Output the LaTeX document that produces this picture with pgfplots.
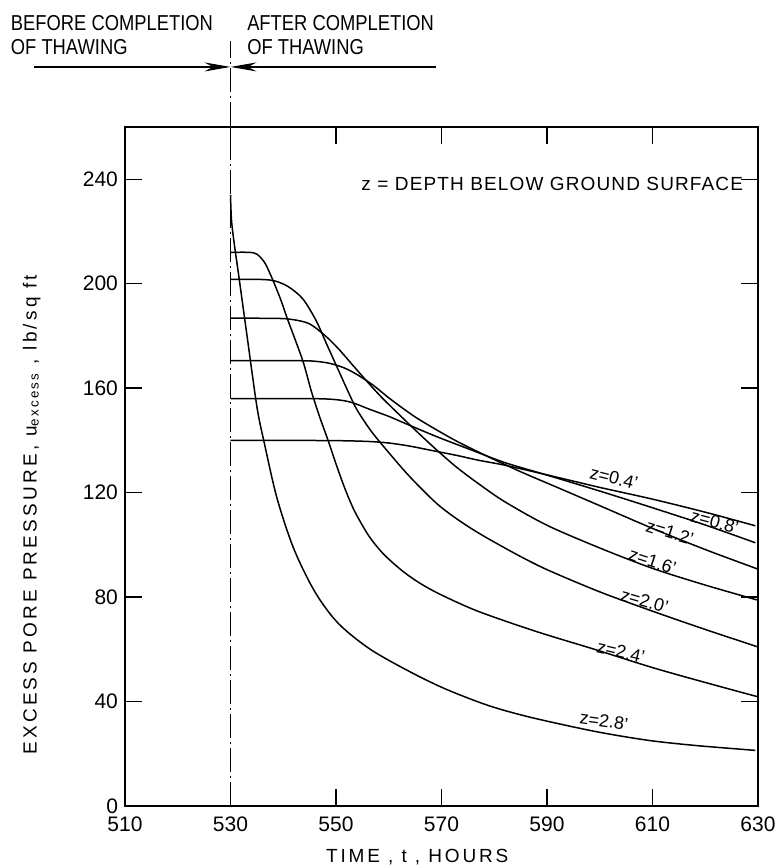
\documentclass[border=0pt]{standalone}
\usepackage{fontspec}
\setmainfont{Liberation Sans}
\usepackage{pgfplots}
\pgfplotsset{compat=1.18}
\usetikzlibrary{arrows.meta}

\newcommand\lab[2][6]{{\addfontfeatures{LetterSpace=#1}#2}}
\newcommand\tall[1]{{\fontsize{10.8}{11.5}\selectfont\addfontfeatures{FakeStretch=0.85}#1}}

\begin{document}
\begin{tikzpicture}
\begin{axis}[
    name=ax, at={(0,0)}, anchor=south west,
    scale only axis, width=316.5pt, height=339.5pt,
    xmin=510, xmax=630, ymin=0, ymax=260,
    xtick={510,530,...,630}, ytick={0,40,...,240},
    tick align=inside, tick pos=both,
    xticklabel pos=bottom, yticklabel pos=left,
    major tick length=8.5pt,
    axis line style={line width=0.7pt},
    every tick/.style={black, line width=0.7pt},
    tick label style={font=\fontsize{10.5}{12}\selectfont},
    xticklabel style={yshift=-2pt},
    /pgf/number format/assume math mode=true,
    /pgf/number format/set thousands separator={},
    clip=false,
    cycle list={{black,solid}},
    every axis plot/.append style={line width=0.75pt, mark=none, smooth, tension=0.5},
]
% z = 0.4'
\addplot coordinates {(530,140) (540,140) (550,139.9) (556,139.6) (560,139) (564,137.8)
  (568,136.2) (573,134.2) (577,132.4) (582,130.5) (590,126.8) (600,122) (610,117.5)
  (620,112.5) (629.5,107.3)};
% z = 0.8'
\addplot coordinates {(530,156) (545,156) (550,155.6) (553,154.5) (556.5,151.8) (560,149.2)
  (563,146.6) (569,141.5) (575.7,136.3) (582,131.5) (590,126.7) (600,120.6) (610,114.2)
  (620,107.6) (629.5,100.8)};
% z = 1.2'
\addplot coordinates {(530,170.5) (543,170.5) (546,170.3) (548.8,169.5) (551.5,167.8)
  (554,165.2) (557,161.2) (560,156.3) (563,151.8) (566,147.7) (572.5,140.1) (578.9,133.7)
  (585,128) (591.7,122.2) (600,115) (610,106.3) (620,98.2) (630,90.7)};
% z = 1.6'
\addplot coordinates {(530,186.8) (539,186.7) (542,186.2) (545,184.6) (548,180) (550.5,175)
  (553.3,168.5) (556,162.3) (558.4,157) (561,151.8) (565,144) (569,136.5) (573,129.5)
  (577.3,123) (582,116.5) (590,107.5) (600,98.8) (610,91) (620,84.6) (630,78.8)};
% z = 2.0'
\addplot coordinates {(530,201.7) (536,201.6) (538.5,201) (541,198.8) (543.7,194.2)
  (546.2,186) (548.2,177) (550.1,168.5) (552,160) (553.9,152) (556.5,144) (559.3,137)
  (563.8,126.5) (569,116) (573,109.8) (577.3,104.2) (584,96.6) (590,90.5) (600,82)
  (610,74.6) (620,67.6) (630,60.9)};
% z = 2.4'
\addplot coordinates {(530,212) (533.5,212) (535,211.3) (536.5,208) (537.9,202) (539.5,194)
  (540.8,186.5) (543.7,170.5) (545.3,159) (546.9,149) (548.5,140) (550,131) (551.7,121.5)
  (553.5,113) (556.2,103.5) (559,96.5) (562.6,90) (566,85.2) (570,80.8) (577,74.5)
  (588,66.8) (599,60) (610,53) (620,47.3) (630,41.8)};
% z = 2.8'
\addplot coordinates {(530,234) (530.2,224) (530.8,214) (531.5,204) (533,182) (535,153)
  (536.3,140) (538.8,118) (542,98.5) (546,82) (550.4,70) (556.5,60) (564.4,51)
  (571,44.6) (579,38.4) (587,33.9) (599,28.6) (609,25.2) (618,23.2) (629.5,21.3)};

% thawing marker and arrows
\draw[line width=0.6pt, dash pattern=on 12pt off 2pt on 1pt off 2pt]
  (axis cs:530,0) -- (axis cs:530,293);
\draw[line width=0.6pt, -{Stealth[length=13pt,width=4.5pt]}]
  (axis cs:492.7,283) -- (axis cs:530,283);
\draw[line width=0.6pt, -{Stealth[length=13pt,width=4.5pt]}]
  (axis cs:569,283) -- (axis cs:530,283);
\node[anchor=north west, align=left, inner sep=0pt]
  at (axis cs:488.3,302.7) {\tall{BEFORE COMPLETION}\\\tall{OF THAWING}};
\node[anchor=north west, align=left, inner sep=0pt]
  at (axis cs:533.1,302.7) {\tall{AFTER COMPLETION}\\\tall{OF THAWING}};

% texts
\node[font=\fontsize{9.5}{11}\selectfont] at (axis cs:591,238)
  {\lab{z = DEPTH BELOW GROUND SURFACE}};
\node[rotate=90, font=\fontsize{9.5}{11}\selectfont] at (axis cs:492.3,111.5)
  {\lab[17]{EXCESS PORE PRESSURE, u\textsubscript{excess} , lb/sq ft}};
\node[font=\fontsize{9.5}{11}\selectfont] at (axis cs:565.4,-19.5)
  {\lab[15]{TIME , t , HOURS}};

% curve labels
\begin{scope}[every node/.style={font=\fontsize{9}{10}\selectfont, inner sep=0pt}]
\node[rotate=-14] at (axis cs:602.7,125.6) {z=0.4'};
\node[rotate=-15] at (axis cs:621.8,108.8) {z=0.8'};
\node[rotate=-17] at (axis cs:613.3,104.8) {z=1.2'};
\node[rotate=-18] at (axis cs:610,93.6) {z=1.6'};
\node[rotate=-16] at (axis cs:608.5,78.5) {z=2.0'};
\node[rotate=-13] at (axis cs:604,59) {z=2.4'};
\node[rotate=-8] at (axis cs:600.8,32.5) {z=2.8'};
\end{scope}
\end{axis}
\pgfresetboundingbox
\path[use as bounding box] (ax.south west) ++(-62.5pt,-31pt) rectangle ++(389pt,434pt);
\end{tikzpicture}
\end{document}
